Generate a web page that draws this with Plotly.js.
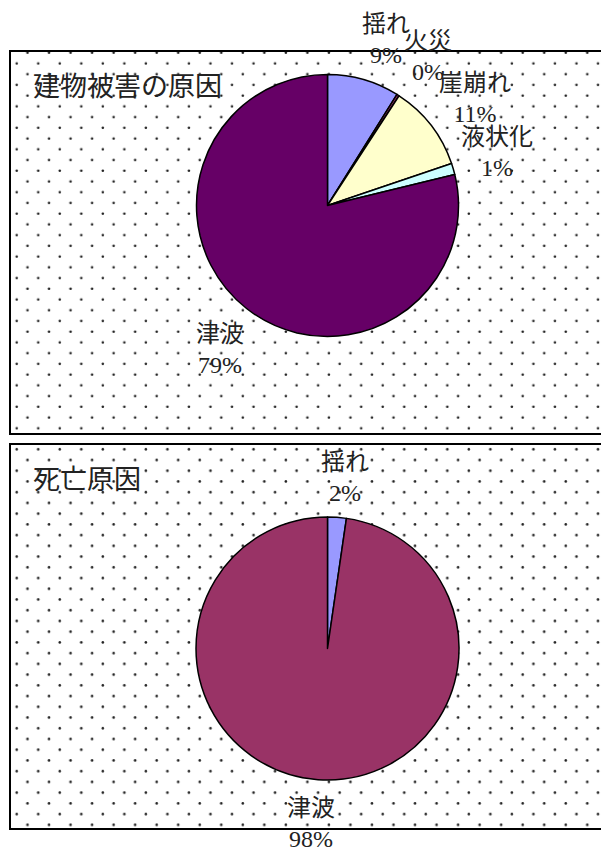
<!DOCTYPE html>
<html>
<head>
<meta charset="utf-8">
<script src="https://cdn.plot.ly/plotly-3.0.1.min.js"></script>
<style>html,body{margin:0;padding:0;background:#fff;}#chart{width:601px;height:847px;}</style>
</head>
<body>
<div id="chart"></div>
<script>
// ---- data ----
var buildingTitle = '建物被害の原因';
var buildingLabels = ['揺れ', '火災', '崖崩れ', '液状化', '津波'];
var buildingValues = [8.9, 0.3, 10.6, 1.4, 78.8];
var buildingColors = ['#9999FF', '#993366', '#FFFFCC', '#CCFFFF', '#660066'];

var deathTitle = '死亡原因';
var deathLabels = ['揺れ', '津波'];
var deathValues = [2.3, 97.7];
var deathColors = ['#9999FF', '#993366'];

// ---- layout helpers (pixels -> paper) ----
var W = 601, H = 847;
function px(x) { return x / W; }
function py(y) { return 1 - y / H; }

var FONT = 'Liberation Serif, "Noto Sans CJK JP", serif';

function pct(vals) {
  var s = vals.reduce(function (a, b) { return a + b; }, 0);
  return vals.map(function (v) { return Math.round(v / s * 100) + '%'; });
}

// label centre positions (layout, pixels)
var buildingLabelPos = [[386, 40], [428, 56], [475, 98], [497, 153], [220, 350]];
var deathLabelPos = [[345, 477], [311, 823]];

function pieTrace(labels, values, colors, cx, cy, r) {
  return {
    type: 'pie', labels: labels, values: values, sort: false,
    direction: 'clockwise', rotation: 0, textinfo: 'none', hoverinfo: 'none',
    marker: { colors: colors, line: { color: '#000', width: 1.5 } },
    domain: { x: [px(cx - r), px(cx + r)], y: [py(cy + r), py(cy - r)] },
    showlegend: false
  };
}

var data = [
  pieTrace(buildingLabels, buildingValues, buildingColors, 327.5, 205.5, 131),
  pieTrace(deathLabels, deathValues, deathColors, 327.5, 648.5, 131.5)
];

var annotations = [];
function addLabels(labels, values, pos) {
  var p = pct(values);
  labels.forEach(function (l, i) {
    annotations.push({
      xref: 'paper', yref: 'paper', x: px(pos[i][0]), y: py(pos[i][1]),
      xanchor: 'center', yanchor: 'middle', showarrow: false,
      text: l + '<br>' + p[i], align: 'center',
      font: { family: FONT, size: 24, color: '#222' }
    });
  });
}
addLabels(buildingLabels, buildingValues, buildingLabelPos);
addLabels(deathLabels, deathValues, deathLabelPos);

annotations.push({ xref: 'paper', yref: 'paper', x: px(31), y: py(87), xanchor: 'left', yanchor: 'middle',
  showarrow: false, text: buildingTitle, font: { family: FONT, size: 27, color: '#222' } });
annotations.push({ xref: 'paper', yref: 'paper', x: px(31), y: py(480), xanchor: 'left', yanchor: 'middle',
  showarrow: false, text: deathTitle, font: { family: FONT, size: 27, color: '#222' } });

// dotted background pattern as an SVG image
function dotSvg(w, h, ax, ay, bx, by) {
  var s = '<svg xmlns="http://www.w3.org/2000/svg" width="' + w + '" height="' + h + '">' +
    '<defs><pattern id="p" width="21.53" height="21.46" patternUnits="userSpaceOnUse" x="0" y="0">' +
    '<circle cx="' + ax + '" cy="' + ay + '" r="1.3" fill="#222"/>' +
    '<circle cx="' + bx + '" cy="' + by + '" r="1.3" fill="#222"/>' +
    '</pattern></defs><rect width="100%" height="100%" fill="url(#p)"/></svg>';
  return 'data:image/svg+xml;charset=utf-8,' + encodeURIComponent(s);
}

var panels = [[10, 51, 434, 17.5, 1.7, 6.7, 12.4], [10, 444, 829, 6.7, 5.3, 17.5, 16.0]];
var images = panels.map(function (p) {
  var w = W - p[0], h = p[2] - p[1];
  return { source: dotSvg(w, h, p[3], p[4], p[5], p[6]), xref: 'paper', yref: 'paper',
    x: px(p[0]), y: py(p[1]), sizex: w / W, sizey: h / H, sizing: 'stretch',
    xanchor: 'left', yanchor: 'top', layer: 'below' };
});
var shapes = panels.map(function (p) {
  return { type: 'rect', xref: 'paper', yref: 'paper', x0: px(p[0]), x1: px(640),
    y0: py(p[2]), y1: py(p[1]), line: { color: '#000', width: 2 }, fillcolor: 'rgba(0,0,0,0)', layer: 'below' };
});

var layout = {
  width: W, height: H, margin: { l: 0, r: 0, t: 0, b: 0 },
  paper_bgcolor: '#fff', plot_bgcolor: '#fff',
  annotations: annotations, images: images, shapes: shapes, showlegend: false
};
Plotly.newPlot('chart', data, layout, { staticPlot: true, displayModeBar: false });
</script>
</body>
</html>
